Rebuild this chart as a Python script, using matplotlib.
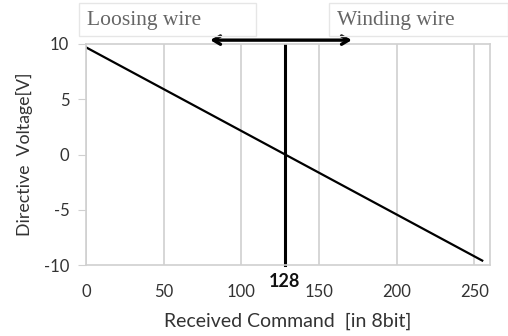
import matplotlib
matplotlib.use("Agg")
import matplotlib.pyplot as plt
from matplotlib.patches import Rectangle

plt.rcParams["axes.unicode_minus"] = False

# command value (8 bit) vs. directive voltage
command = [0, 255]
voltage = [9.7, -9.6]
center_cmd = 128
arrow_span = [80, 171]

x_ticks = [0, 50, 100, 150, 200, 250]
y_ticks = [-10, -5, 0, 5, 10]

grid_col = "#d0d0d0"
sans = ["Lato", "DejaVu Sans"]
serif = ["Liberation Serif", "DejaVu Serif"]

fig = plt.figure(figsize=(5.08, 3.36), dpi=100)
ax = fig.add_axes([86 / 508, 1 - 265 / 336, (490 - 86) / 508, (265 - 44) / 336])

ax.set_xlim(0, 260)
ax.set_ylim(-10, 10)
ax.set_xticks(x_ticks)
ax.set_yticks(y_ticks)
ax.xaxis.grid(True, color=grid_col, lw=1.2)
for s in ax.spines.values():
    s.set_color(grid_col)
    s.set_linewidth(1.2)
ax.tick_params(axis="x", length=0, pad=14, labelsize=12, labelcolor="#333333")
ax.tick_params(axis="y", length=6, color=grid_col, pad=6, labelsize=12, labelcolor="#333333")
for lab in ax.get_xticklabels() + ax.get_yticklabels():
    lab.set_family(sans)

ax.plot(command, voltage, color="black", lw=1.6)
ax.plot([center_cmd, center_cmd], [-10, 9.9], color="black", lw=2.2, clip_on=False)
ax.text(center_cmd, -11.45, str(center_cmd), ha="center", va="center",
        fontsize=13, family=sans, weight="bold", color="#111111")

ax.annotate("", xy=(arrow_span[0], 10.35), xytext=(arrow_span[1], 10.35),
            xycoords="data", annotation_clip=False,
            arrowprops=dict(arrowstyle="<->,head_length=0.5,head_width=0.3",
                            color="black", lw=2.4, shrinkA=0, shrinkB=0))

ax.set_xlabel("Received Command  [in 8bit]", fontsize=14, family=sans,
              color="#333333", labelpad=9)
ax.set_ylabel("Directive  Voltage[V]", fontsize=12.8, family=sans,
              color="#333333", labelpad=8)

# direction boxes above the plot
for x0, x1, txt in [(79, 256, "Loosing wire"), (329, 508, "Winding wire")]:
    fig.patches.append(Rectangle((x0 / 508, 1 - 36 / 336), (x1 - x0) / 508, 33 / 336,
                                 transform=fig.transFigure, fill=False,
                                 ec="#e6e6e6", lw=1.0))
    fig.text((x0 + 8) / 508, 1 - 21 / 336, txt, ha="left", va="center",
             fontsize=15.5, family=serif, color="#666666")

fig.savefig("out.png", dpi=100)
